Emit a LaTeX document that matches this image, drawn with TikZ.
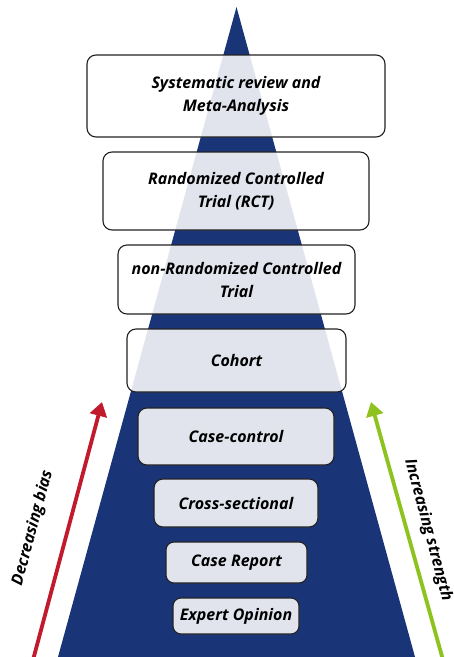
\documentclass[tikz,border=0pt]{standalone}
\usepackage{fontspec}
\setmainfont{Open Sans}
\usetikzlibrary{arrows.meta}
\definecolor{pyrblue}{HTML}{1A3478}
\definecolor{biasred}{HTML}{C01A2C}
\definecolor{strgreen}{HTML}{8DC21F}
\definecolor{edge}{HTML}{222222}
\tikzset{
  level/.style={draw=edge, line width=1.1pt, rounded corners=9pt, fill=white,
    fill opacity=0.87, text opacity=1, inner sep=0pt, align=center,
    font=\fontsize{16}{23}\selectfont\bfseries\itshape},
  trend/.style={line width=3.8pt, -{Triangle[length=14pt,width=17pt]}},
  trendlabel/.style={font=\fontsize{16}{18}\selectfont\bfseries\itshape, inner sep=0pt}
}
\begin{document}
\begin{tikzpicture}[x=1pt,y=-1pt]
  \useasboundingbox[fill=white] (0,0) rectangle (454,657);
  % evidence pyramid
  \fill[pyrblue] (236.5,7) -- (415,657) -- (58,657) -- cycle;
  % levels of evidence
  \node[level, minimum width=298pt, minimum height=82pt] (sr) at (236,96) {Systematic review and\\Meta-Analysis};
  \node[level, minimum width=266pt, minimum height=78pt] (rct) at (236,191) {Randomized Controlled\\Trial (RCT)};
  \node[level, minimum width=237pt, minimum height=69pt] (nrct) at (236.5,279.5) {non-Randomized Controlled\\Trial};
  \node[level, minimum width=219pt, minimum height=63pt] (coh) at (236.5,360.5) {Cohort};
  \node[level, minimum width=196pt, minimum height=57pt] (cc) at (236,436.5) {Case-control};
  \node[level, minimum width=164pt, minimum height=48pt] (cs) at (236,503) {Cross-sectional};
  \node[level, minimum width=141pt, minimum height=41pt, rounded corners=8pt] (cr) at (236.5,562.5) {Case Report};
  \node[level, minimum width=126pt, minimum height=36pt, rounded corners=8pt] (eo) at (236,616) {Expert Opinion};
  % trend arrows
  \coordinate (rb) at (33,660);
  \coordinate (rt) at (102,402);
  \coordinate (gb) at (443,660);
  \coordinate (gt) at (371,402);
  \draw[trend, biasred] (rb) -- (rt);
  \draw[trend, strgreen] (gb) -- (gt);
  \node[trendlabel, rotate=75] (bias) at (33,528) {Decreasing bias};
  \node[trendlabel, rotate=-75] (str) at (428,530) {Increasing strength};
\end{tikzpicture}
\end{document}
